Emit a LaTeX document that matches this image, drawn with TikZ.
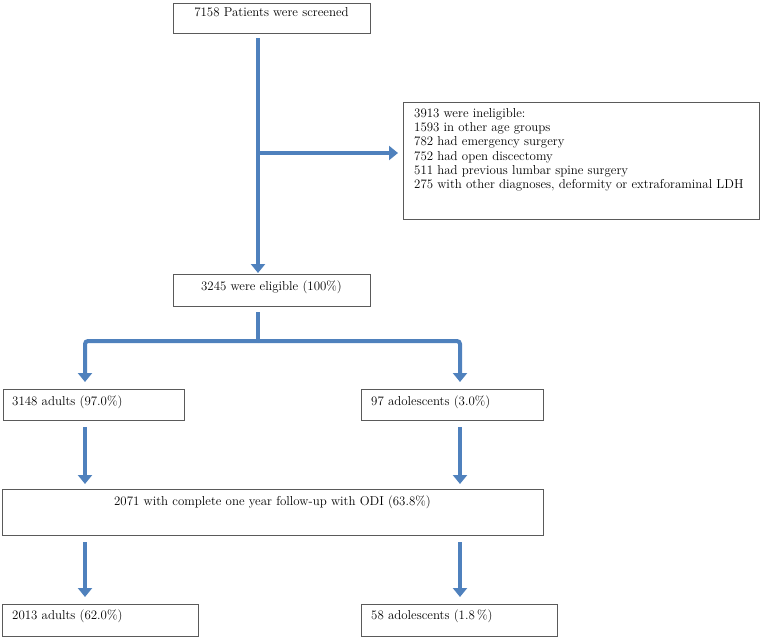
\documentclass[tikz,border=0pt]{standalone}
\usetikzlibrary{arrows.meta,shadows}
\definecolor{flowblue}{RGB}{79,129,189}
\definecolor{boxline}{RGB}{90,90,90}
\begin{document}
\begin{tikzpicture}[x=1pt,y=-1pt,
  box/.style={draw=boxline,line width=0.7pt,fill=white,anchor=north west,inner sep=0pt,outer sep=0pt,
    drop shadow={shadow xshift=0.7pt,shadow yshift=-0.9pt,opacity=0.7,fill=black}},
  txt/.style={inner sep=0pt,font=\fontsize{12.9}{14.3}\selectfont},
  flow/.style={draw=flowblue,line width=4pt},
  arr/.style={flow,-{Triangle[width=14pt,length=9pt]}}]
\useasboundingbox (0,0) rectangle (761,638);
% boxes
\node[box,minimum width=197pt,minimum height=30pt] (screen) at (173,3) {};
\node[box,minimum width=356pt,minimum height=117pt] (inel) at (403,102) {};
\node[box,minimum width=197pt,minimum height=32pt] (elig) at (173,274) {};
\node[box,minimum width=181pt,minimum height=31pt] (adults) at (3,389) {};
\node[box,minimum width=182pt,minimum height=31pt] (adol) at (361,389) {};
\node[box,minimum width=541pt,minimum height=46pt] (mid) at (2,489) {};
\node[box,minimum width=196pt,minimum height=32pt] (bad) at (2,604) {};
\node[box,minimum width=196pt,minimum height=32pt] (bado) at (361,604) {};
% texts
\node[txt,anchor=base] (tscreen) at ([yshift=-13.5pt]screen.north) {7158 Patients were screened};
\node[txt,anchor=north west,align=left] (tinel) at ([shift={(11,6)}]inel.north west)
  {3913 were ineligible:\\1593 in other age groups\\782 had emergency surgery\\752 had open discectomy\\511 had previous lumbar spine surgery\\275 with other diagnoses, deformity or extraforaminal LDH};
\node[txt,anchor=base] (telig) at ([yshift=-16pt]elig.north) {3245 were eligible (100\%)};
\node[txt,anchor=base west] (tadults) at ([shift={(9,16)}]adults.north west) {3148 adults (97.0\%)};
\node[txt,anchor=base west] (tadol) at ([shift={(10,16)}]adol.north west) {97 adolescents (3.0\%)};
\node[txt,anchor=base] (tmid) at ([yshift=-16pt]mid.north) {2071 with complete one year follow-up with ODI (63.8\%)};
\node[txt,anchor=base west] (tbad) at ([shift={(10,15.5)}]bad.north west) {2013 adults (62.0\%)};
\node[txt,anchor=base west] (tbado) at ([shift={(10,15.5)}]bado.north west) {58 adolescents (1.8\,\%)};
% connectors
\coordinate (b1) at (258,153);
\coordinate (split) at (258,341);
\coordinate (L) at (85,341);
\coordinate (R) at (460,341);
\draw[arr,shorten <=5pt,shorten >=1pt] ([xshift=-13.5pt]screen.south) -- ([xshift=-13.5pt]elig.north);
\draw[arr,shorten >=5pt] (b1) -- (b1 -| inel.west);
\draw[flow,shorten <=6pt] ([xshift=-13.5pt]elig.south) -- (split);
\draw[arr,rounded corners=3pt,shorten >=7pt] (split) -- (L) -- (L |- adults.north);
\draw[arr,rounded corners=3pt,shorten >=7pt] (split) -- (R) -- (R |- adol.north);
\draw[arr,shorten <=7pt,shorten >=5pt] (L |- adults.south) -- (L |- mid.north);
\draw[arr,shorten <=7pt,shorten >=5pt] (R |- adol.south) -- (R |- mid.north);
\draw[arr,shorten <=7pt,shorten >=7pt] (L |- mid.south) -- (L |- bad.north);
\draw[arr,shorten <=7pt,shorten >=7pt] (R |- mid.south) -- (R |- bado.north);
\end{tikzpicture}
\end{document}
